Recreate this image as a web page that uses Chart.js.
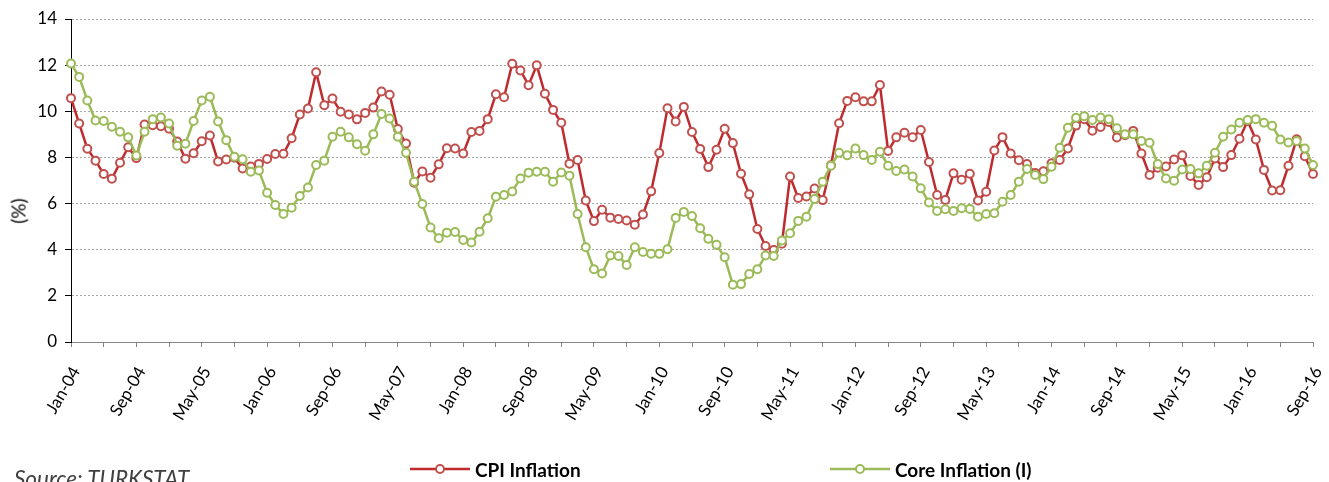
<!DOCTYPE html>
<html><head><meta charset="utf-8">
<script src="https://cdn.jsdelivr.net/npm/chart.js@4.4.0/dist/chart.umd.min.js"></script>
<style>
html,body{margin:0;padding:0;background:#fff;overflow:hidden}
#wrap{position:relative;width:1329px;height:482px;overflow:hidden}
#c{position:absolute;left:0;top:0}
.leg{position:absolute;top:459px;height:20px;display:flex;align-items:center;font:bold 19px Lato,sans-serif;color:#000;white-space:nowrap}
.leg svg{margin-right:5px}
.ytitle{position:absolute;left:18px;top:211px;transform:translate(-50%,-50%) rotate(-90deg);font:19px Lato,sans-serif;color:#000;white-space:nowrap}
.src{position:absolute;left:14px;top:465px;font:italic 22.5px Lato,sans-serif;color:#404040;white-space:nowrap}
</style></head>
<body>
<div id="wrap">
<canvas id="c" width="1329" height="482"></canvas>
<div class="ytitle">(%)</div>
<div class="leg" style="left:410px"><svg width="60" height="14"><line x1="0" y1="7" x2="60" y2="7" stroke="#be2a2e" stroke-width="2.5"/><circle cx="30" cy="7" r="4" fill="#fff" stroke="#c0504d" stroke-width="2"/></svg>CPI Inflation</div>
<div class="leg" style="left:830px"><svg width="60" height="14"><line x1="0" y1="7" x2="60" y2="7" stroke="#9bbb59" stroke-width="2.5"/><circle cx="30" cy="7" r="4" fill="#fff" stroke="#9bbb59" stroke-width="2"/></svg>Core Inflation (I)</div>
<div class="src">Source: TURKSTAT</div>
</div>
<script>
const monthNames = ['Jan','Feb','Mar','Apr','May','Jun','Jul','Aug','Sep','Oct','Nov','Dec'];
const years = ['04','05','06','07','08','09','10','11','12','13','14','15','16'];
const lastMonthCount = 9; // data ends Sep-16

const cpi = [
 10.57, 9.47, 8.38, 7.86, 7.28, 7.08, 7.77, 8.44, 7.97, 9.43, 9.40, 9.35,
 9.24, 8.69, 7.94, 8.18, 8.70, 8.95, 7.82, 7.91, 7.99, 7.52, 7.61, 7.72,
 7.93, 8.15, 8.16, 8.83, 9.86, 10.12, 11.69, 10.26, 10.55, 9.98, 9.86, 9.65,
 9.93, 10.16, 10.86, 10.72, 9.23, 8.60, 6.90, 7.39, 7.12, 7.70, 8.40, 8.39,
 8.17, 9.10, 9.15, 9.66, 10.74, 10.61, 12.06, 11.77, 11.13, 11.99, 10.76, 10.06,
 9.50, 7.73, 7.89, 6.13, 5.24, 5.73, 5.39, 5.33, 5.27, 5.08, 5.53, 6.53,
 8.19, 10.13, 9.56, 10.19, 9.10, 8.37, 7.58, 8.33, 9.24, 8.62, 7.29, 6.40,
 4.90, 4.16, 3.99, 4.26, 7.17, 6.24, 6.31, 6.65, 6.15, 7.66, 9.48, 10.45,
 10.61, 10.43, 10.43, 11.14, 8.28, 8.87, 9.07, 8.88, 9.19, 7.80, 6.37, 6.16,
 7.31, 7.03, 7.29, 6.13, 6.51, 8.30, 8.88, 8.17, 7.88, 7.71, 7.32, 7.40,
 7.75, 7.89, 8.39, 9.38, 9.66, 9.16, 9.32, 9.54, 8.86, 8.96, 9.15, 8.17,
 7.24, 7.55, 7.61, 7.91, 8.09, 7.20, 6.81, 7.14, 7.95, 7.58, 8.10, 8.81,
 9.58, 8.78, 7.46, 6.57, 6.58, 7.64, 8.79, 8.05, 7.28
];
const core = [
 12.07, 11.49, 10.47, 9.60, 9.58, 9.33, 9.11, 8.87, 8.08, 9.11, 9.66, 9.73,
 9.47, 8.51, 8.59, 9.58, 10.47, 10.63, 9.56, 8.75, 8.03, 7.92, 7.38, 7.43,
 6.47, 5.94, 5.55, 5.82, 6.33, 6.70, 7.67, 7.86, 8.90, 9.11, 8.87, 8.57,
 8.29, 9.00, 9.88, 9.69, 8.90, 8.20, 6.95, 5.98, 4.96, 4.50, 4.74, 4.77,
 4.42, 4.31, 4.78, 5.36, 6.30, 6.37, 6.52, 7.09, 7.34, 7.38, 7.38, 6.95,
 7.35, 7.21, 5.55, 4.11, 3.15, 2.97, 3.75, 3.73, 3.34, 4.11, 3.90, 3.83,
 3.82, 4.02, 5.38, 5.64, 5.46, 4.93, 4.47, 4.21, 3.67, 2.48, 2.51, 2.95,
 3.15, 3.75, 3.73, 4.40, 4.71, 5.25, 5.43, 6.20, 6.95, 7.64, 8.20, 8.09,
 8.39, 8.10, 7.89, 8.25, 7.64, 7.41, 7.48, 7.17, 6.66, 6.05, 5.68, 5.75,
 5.68, 5.80, 5.77, 5.43, 5.55, 5.58, 6.08, 6.37, 6.95, 7.50, 7.24, 7.06,
 7.60, 8.42, 9.29, 9.72, 9.79, 9.62, 9.73, 9.66, 9.26, 9.00, 9.00, 8.71,
 8.64, 7.71, 7.09, 6.99, 7.48, 7.50, 7.31, 7.64, 8.20, 8.90, 9.21, 9.50,
 9.62, 9.66, 9.50, 9.37, 8.78, 8.65, 8.71, 8.39, 7.67
];

const labels = [];
years.forEach((y, yi) => {
  const n = yi === years.length - 1 ? lastMonthCount : 12;
  for (let m = 0; m < n; m++) labels.push(monthNames[m] + '-' + y);
});

const FONT = 'Lato, sans-serif';
new Chart(document.getElementById('c'), {
  type: 'line',
  data: {
    labels,
    datasets: [
      { label: 'CPI Inflation', data: cpi, order: 1, borderColor: '#be2a2e', borderWidth: 2.5,
        pointRadius: 4, pointBorderWidth: 2, pointBackgroundColor: '#fff', pointBorderColor: '#c0504d', tension: 0 },
      { label: 'Core Inflation (I)', data: core, order: 0, borderColor: '#9bbb59', borderWidth: 2.5,
        pointRadius: 4, pointBorderWidth: 2, pointBackgroundColor: '#fff', pointBorderColor: '#9bbb59', tension: 0 }
    ]
  },
  options: {
    responsive: false, animation: false,
    layout: { padding: { top: 19, right: 16, left: 0, bottom: 0 } },
    plugins: { legend: { display: false }, tooltip: { enabled: false } },
    scales: {
      x: {
        offset: false,
        grid: { drawOnChartArea: false, tickLength: 5, color: '#868686',
                tickColor: c => (c.index % 4 === 0 ? '#868686' : 'rgba(0,0,0,0)') },
        border: { color: '#868686', width: 1 },
        ticks: { autoSkip: false, maxRotation: 60, minRotation: 60, padding: 16, labelOffset: 5,
                 font: { family: FONT, size: 17 }, color: '#000',
                 callback: (v, i) => (i % 8 === 0 ? labels[i] : '') },
        afterFit: s => { s.height = 140; s.paddingRight = 0; s.paddingLeft = 0; }
      },
      y: {
        min: 0, max: 14,
        ticks: { stepSize: 2, padding: 8, font: { family: FONT, size: 17 }, color: '#000' },
        grid: { color: '#a6a6a6', tickColor: '#000', tickLength: 6 },
        border: { color: '#000', width: 1, dash: [2, 2] },
        afterFit: s => { s.width = 71; }
      }
    }
  }
});
</script>
</body></html>
